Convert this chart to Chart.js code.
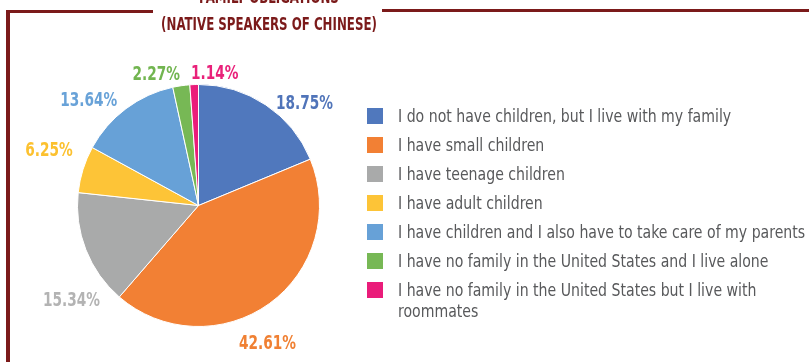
<!DOCTYPE html>
<html>
<head>
<meta charset="utf-8">
<script src="https://cdn.jsdelivr.net/npm/chart.js@4"></script>
<style>
  html, body { margin: 0; padding: 0; background: #ffffff; }
  #wrap { position: relative; width: 809px; height: 362px; overflow: hidden; background: #fff; }
  #chart { position: absolute; left: 0; top: 0; }
  .rule { position: absolute; background: #7b1a1a; }
  .title {
    position: absolute; left: 269px; transform: translateX(-50%) scaleX(0.73);
    white-space: nowrap; color: #7b1a1a;
    font-family: "DejaVu Sans Condensed", "Liberation Sans Narrow", sans-serif;
    font-weight: bold; font-size: 18px; line-height: 20px;
  }
  #legend {
    position: absolute; left: 367px; top: 106px; width: 520px;
    font-family: "DejaVu Sans Condensed", "Liberation Sans Narrow", sans-serif;
    font-size: 17px; line-height: 21px; color: #58595b;
  }
  .item { display: flex; align-items: flex-start; margin-bottom: 8px; }
  .box { flex: 0 0 16px; width: 16px; height: 16px; margin-top: 2px; margin-right: 15px; }
  .txt { flex: 0 0 452px; width: 452px; transform: scaleX(0.922); transform-origin: 0 0; }
</style>
</head>
<body>
<div id="wrap">
  <canvas id="chart" width="809" height="362"></canvas>
  <div class="rule" style="left:6px; top:10px; width:147px; height:3px;"></div>
  <div class="rule" style="left:382px; top:9px; width:427px; height:3px;"></div>
  <div class="rule" style="left:6px; top:10px; width:4px; height:352px;"></div>
  <div class="title" style="top:-13px;">FAMILY OBLIGATIONS</div>
  <div class="title" style="top:14px;">(NATIVE SPEAKERS OF CHINESE)</div>
  <div id="legend"></div>
</div>
<script>
// Family obligations, share of respondents (%)
const categories = [
  "I do not have children, but I live with my family",
  "I have small children",
  "I have teenage children",
  "I have adult children",
  "I have children and I also have to take care of my parents",
  "I have no family in the United States and I live alone",
  "I have no family in the United States but I live with roommates"
];
const shares = [18.75, 42.61, 15.34, 6.25, 13.64, 2.27, 1.14];
const sliceColors = ["#5078bd", "#f28034", "#a9aaaa", "#fdc437", "#67a1d7", "#77b855", "#ea1c7a"];
const labelColors = ["#5074b9", "#f08033", "#b3b3b3", "#fcc12f", "#68a2d8", "#72b550", "#e9217a"];

// Percentage label placement: angular nudge (deg) from slice middle, and gap beyond the rim
const labelNudgeDeg = [12, 9, -15, 3.5, -9, -9.5, 9];
const labelGap = [27, 32, 37, 39, 32, 18, 13];

const pctLabels = {
  id: "pctLabels",
  afterDatasetsDraw(chart) {
    const ctx = chart.ctx;
    const meta = chart.getDatasetMeta(0);
    const squeeze = 0.8;
    meta.data.forEach((arc, i) => {
      const p = arc.getProps(["x", "y", "startAngle", "endAngle", "outerRadius"], true);
      const a = (p.startAngle + p.endAngle) / 2 + labelNudgeDeg[i] * Math.PI / 180;
      const d = p.outerRadius + labelGap[i];
      const cx = p.x + Math.cos(a) * d;
      const cy = p.y + Math.sin(a) * d;
      ctx.save();
      ctx.translate(cx, cy + 7);
      ctx.scale(squeeze, 1);
      ctx.font = "bold 19px 'DejaVu Sans Condensed', 'Liberation Sans Narrow', sans-serif";
      ctx.textAlign = "center";
      ctx.textBaseline = "alphabetic";
      ctx.fillStyle = labelColors[i];
      ctx.fillText(shares[i].toFixed(2) + "%", 0, 0);
      ctx.restore();
    });
  }
};

const chart = new Chart(document.getElementById("chart"), {
  type: "pie",
  data: {
    labels: categories,
    datasets: [{
      data: shares,
      backgroundColor: sliceColors,
      borderColor: "#ffffff",
      borderWidth: 1
    }]
  },
  options: {
    responsive: false,
    devicePixelRatio: 1,
    animation: false,
    layout: { padding: { left: 77, right: 489, top: 84, bottom: 35 } },
    plugins: {
      legend: { display: false },
      tooltip: { enabled: false },
      title: { display: false }
    }
  },
  plugins: [pctLabels]
});

// HTML legend built from the chart's own legend items
const legendEl = document.getElementById("legend");
chart.options.plugins.legend.labels.generateLabels(chart).forEach(item => {
  const row = document.createElement("div");
  row.className = "item";
  const box = document.createElement("span");
  box.className = "box";
  box.style.background = item.fillStyle;
  const txt = document.createElement("span");
  txt.className = "txt";
  txt.textContent = item.text;
  row.appendChild(box);
  row.appendChild(txt);
  legendEl.appendChild(row);
});
</script>
</body>
</html>
